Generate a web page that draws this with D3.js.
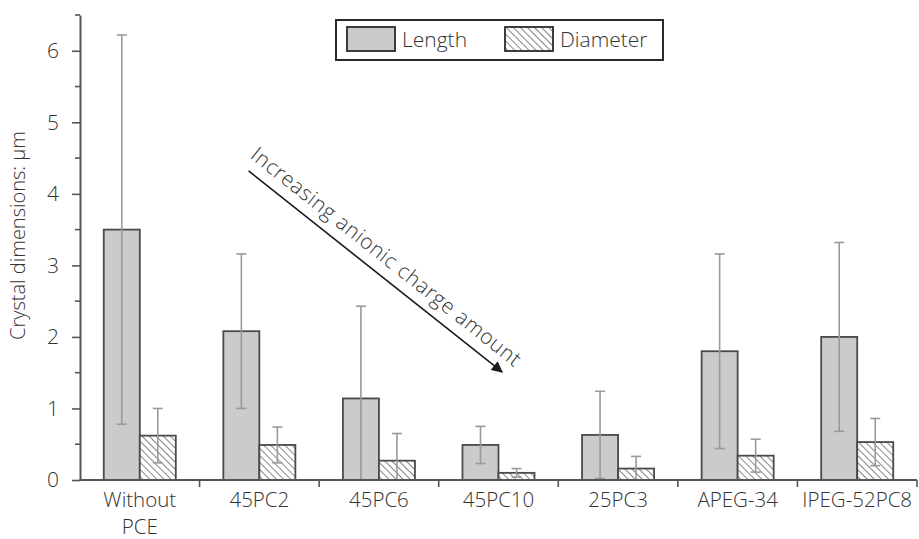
<!DOCTYPE html>
<html>
<head>
<meta charset="utf-8">
<script src="https://cdn.jsdelivr.net/npm/d3@7"></script>
<style>
  body { margin: 0; background: #fff; }
  text { font-family: "Open Sans", sans-serif; font-weight: 300; fill: #333; }
</style>
</head>
<body>
<div id="chart"></div>
<script>
const categories = ["Without PCE", "45PC2", "45PC6", "45PC10", "25PC3", "APEG-34", "IPEG-52PC8"];
const series = ["Length", "Diameter"];
const lengthMean = [3.50, 2.08, 1.14, 0.49, 0.63, 1.80, 2.00];
const lengthErr = [2.72, 1.08, 1.29, 0.26, 0.61, 1.36, 1.32];
const diameterMean = [0.62, 0.49, 0.27, 0.10, 0.16, 0.34, 0.53];
const diameterErr = [0.38, 0.25, 0.38, 0.06, 0.17, 0.23, 0.33];
const yTicks = [0, 1, 2, 3, 4, 5, 6];
const yMinorTicks = [0.5, 1.5, 2.5, 3.5, 4.5, 5.5, 6.5];
// arrow annotation in data space: [category, fraction across band, value]
const arrowFrom = ["45PC2", 0.41, 4.32];
const arrowTo = ["45PC10", 0.53, 1.51];

const width = 919, height = 539;
const margin = {top: 15, right: 2, bottom: 59, left: 80};

const svg = d3.select("#chart").append("svg")
  .attr("width", width)
  .attr("height", height);

const defs = svg.append("defs");
const hatch = defs.append("pattern")
  .attr("id", "hatch")
  .attr("patternUnits", "userSpaceOnUse")
  .attr("width", 5)
  .attr("height", 5)
  .attr("patternTransform", "rotate(-45)");
hatch.append("rect").attr("width", 5).attr("height", 5).attr("fill", "#fff");
hatch.append("line")
  .attr("x1", 0).attr("y1", 0).attr("x2", 0).attr("y2", 5)
  .attr("stroke", "#6a6a6a").attr("stroke-width", 1.6);

defs.append("marker")
  .attr("id", "arrowhead")
  .attr("viewBox", "0 0 10 10")
  .attr("refX", 9).attr("refY", 5)
  .attr("markerWidth", 8).attr("markerHeight", 7)
  .attr("markerUnits", "strokeWidth")
  .attr("orient", "auto")
  .append("path")
  .attr("d", "M0,0 L10,5 L0,10 Z")
  .attr("fill", "#1a1a1a");

const x0 = d3.scaleBand()
  .domain(categories)
  .range([margin.left, width - margin.right])
  .padding(0);

const x1 = d3.scaleBand()
  .domain(series)
  .range([0, x0.bandwidth()])
  .paddingInner(0)
  .paddingOuter(0.66);

const y = d3.scaleLinear()
  .domain([0, 6.5])
  .range([height - margin.bottom, margin.top]);

const rows = categories.map((c, i) => ({
  cat: c,
  values: [
    {key: "Length", mean: lengthMean[i], err: lengthErr[i]},
    {key: "Diameter", mean: diameterMean[i], err: diameterErr[i]}
  ]
}));

// bars
const groups = svg.append("g").selectAll("g")
  .data(rows)
  .join("g")
  .attr("transform", d => `translate(${x0(d.cat)},0)`);

groups.selectAll("rect")
  .data(d => d.values)
  .join("rect")
  .attr("x", d => x1(d.key))
  .attr("y", d => y(d.mean))
  .attr("width", x1.bandwidth())
  .attr("height", d => y(0) - y(d.mean))
  .attr("fill", d => d.key === "Length" ? "#cbcbcb" : "url(#hatch)")
  .attr("stroke", "#4a4a4a")
  .attr("stroke-width", 1.8);

// error bars
const err = groups.selectAll("g.err")
  .data(d => d.values)
  .join("g")
  .attr("class", "err")
  .attr("stroke", "#9a9a9a")
  .attr("stroke-width", 1.6);

const cx = d => x1(d.key) + x1.bandwidth() / 2;
err.append("line")
  .attr("x1", cx).attr("x2", cx)
  .attr("y1", d => y(d.mean + d.err))
  .attr("y2", d => y(Math.max(0, d.mean - d.err)));
err.append("line")
  .attr("x1", d => cx(d) - 5).attr("x2", d => cx(d) + 5)
  .attr("y1", d => y(d.mean + d.err))
  .attr("y2", d => y(d.mean + d.err));
err.filter(d => d.mean - d.err > 0).append("line")
  .attr("x1", d => cx(d) - 5).attr("x2", d => cx(d) + 5)
  .attr("y1", d => y(d.mean - d.err))
  .attr("y2", d => y(d.mean - d.err));

// y axis
const yAxis = svg.append("g")
  .attr("transform", `translate(${margin.left},0)`)
  .call(d3.axisLeft(y).tickValues(yTicks).tickFormat(d3.format("d"))
    .tickSize(8).tickSizeOuter(0).tickPadding(13));
yAxis.selectAll(".tick text").attr("font-size", 21).attr("font-family", null).attr("fill", null);
yAxis.select(".domain").attr("stroke", "#555").attr("stroke-width", 2);
yAxis.selectAll(".tick line").attr("stroke", "#555").attr("stroke-width", 1.6);

svg.append("g").selectAll("line")
  .data(yMinorTicks)
  .join("line")
  .attr("x1", margin.left - 5).attr("x2", margin.left)
  .attr("y1", d => y(d)).attr("y2", d => y(d))
  .attr("stroke", "#555").attr("stroke-width", 1.6);

svg.append("text")
  .attr("transform", `translate(25,${(y(0) + y(6.5)) / 2 - 12}) rotate(-90)`)
  .attr("text-anchor", "middle")
  .attr("font-size", 20)
  .text("Crystal dimensions: μm");

// x axis
const xAxis = svg.append("g");
xAxis.append("line")
  .attr("x1", margin.left).attr("x2", width - margin.right)
  .attr("y1", y(0)).attr("y2", y(0))
  .attr("stroke", "#555").attr("stroke-width", 2);
xAxis.selectAll("line.tick")
  .data(categories)
  .join("line")
  .attr("class", "tick")
  .attr("x1", d => x0(d) + x0.bandwidth()).attr("x2", d => x0(d) + x0.bandwidth())
  .attr("y1", y(0)).attr("y2", y(0) + 7)
  .attr("stroke", "#555").attr("stroke-width", 1.6);

// one text per label line so stacked lines stay separate
const labelLines = categories.flatMap(c =>
  (c === "Without PCE" ? ["Without", "PCE"] : [c]).map((t, i) => ({cat: c, t, i})));
xAxis.selectAll("text")
  .data(labelLines)
  .join("text")
  .attr("text-anchor", "middle")
  .attr("font-size", 20.5)
  .attr("x", d => x0(d.cat) + x0.bandwidth() / 2)
  .attr("y", d => y(0) + 27 + d.i * 27)
  .text(d => d.t);

// legend
const legend = svg.append("g").attr("transform", "translate(336,20)");
legend.append("rect")
  .attr("width", 327).attr("height", 40)
  .attr("fill", "#fff").attr("stroke", "#2a2a2a").attr("stroke-width", 2);
const legendItems = [
  {key: "Length", x: 11, fill: "#cbcbcb"},
  {key: "Diameter", x: 169, fill: "url(#hatch)"}
];
const li = legend.selectAll("g.item")
  .data(legendItems)
  .join("g")
  .attr("class", "item")
  .attr("transform", d => `translate(${d.x},7)`);
li.append("rect")
  .attr("width", 48).attr("height", 24)
  .attr("fill", d => d.fill)
  .attr("stroke", "#2a2a2a").attr("stroke-width", 1.8);
li.append("text")
  .attr("x", 55).attr("y", 20)
  .attr("font-size", 21)
  .text(d => d.key);

// annotation arrow
const ax = p => x0(p[0]) + p[1] * x0.bandwidth();
const p1 = [ax(arrowFrom), y(arrowFrom[2])];
const p2 = [ax(arrowTo), y(arrowTo[2])];
svg.append("line")
  .attr("x1", p1[0]).attr("y1", p1[1])
  .attr("x2", p2[0]).attr("y2", p2[1])
  .attr("stroke", "#1a1a1a").attr("stroke-width", 1.6)
  .attr("marker-end", "url(#arrowhead)");
const ang = Math.atan2(p2[1] - p1[1], p2[0] - p1[0]) * 180 / Math.PI;
svg.append("text")
  .attr("transform", `translate(${p1[0]},${p1[1]}) rotate(${ang}) translate(-8,-11)`)
  .attr("font-size", 21)
  .attr("textLength", 338)
  .attr("lengthAdjust", "spacing")
  .text("Increasing anionic charge amount");
</script>
</body>
</html>
